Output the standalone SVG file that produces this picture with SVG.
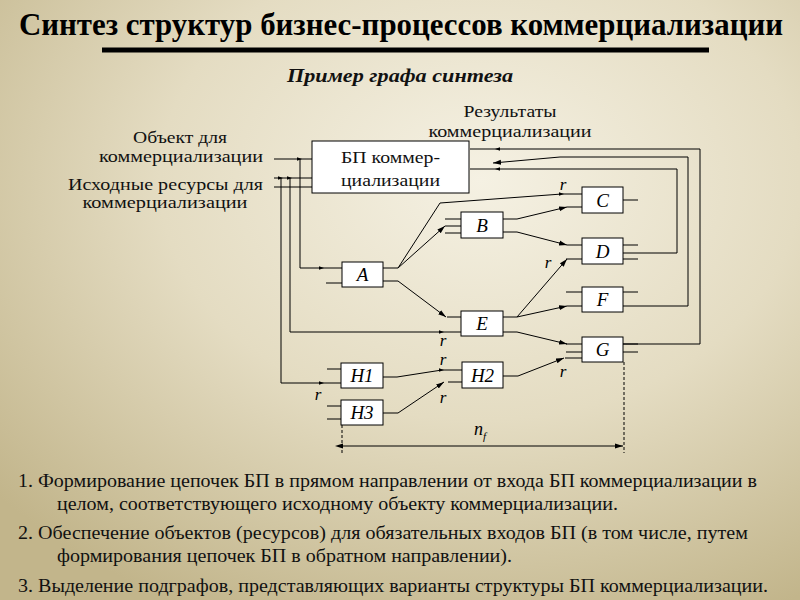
<svg xmlns="http://www.w3.org/2000/svg" xmlns:xlink="http://www.w3.org/1999/xlink" width="800" height="600" viewBox="0 0 800 600">
<defs>
<radialGradient id="bg" cx="0.6" cy="0.3" r="0.8">
<stop offset="0" stop-color="#f5f1e3"/>
<stop offset="0.5" stop-color="#e4dcc2"/>
<stop offset="1" stop-color="#c2b58b"/>
</radialGradient>
<marker id="ah" viewBox="0 0 8 6" refX="8" refY="3" markerWidth="8" markerHeight="6" markerUnits="userSpaceOnUse" orient="auto">
<path d="M0,0.5 L8,3 L0,5.5 z" fill="#000"/>
</marker>
<marker id="ahs" viewBox="0 0 8 6" refX="0" refY="3" markerWidth="8" markerHeight="6" markerUnits="userSpaceOnUse" orient="auto-start-reverse">
<path d="M0,0.5 L8,3 L0,5.5 z" fill="#000"/>
</marker>
<path id="tk" d="M-3,-1.8 L2,0 L-3,1.8 z" fill="#000"/>
</defs>
<style>
text{font-family:"Liberation Serif","Times New Roman","DejaVu Serif",serif}
.ln{fill:none;stroke:#000;stroke-width:1}
.box{fill:#fff;stroke:#000;stroke-width:1}
.lab{font-size:17px;fill:#111}
.nl{font-size:19px;font-style:italic;fill:#000;text-anchor:middle}
.r{font-size:17px;font-style:italic;fill:#000;text-anchor:middle}
.bt{font-size:18px;fill:#111}
.dash{fill:none;stroke:#000;stroke-width:1;stroke-dasharray:3,2}
</style>
<rect x="0" y="0" width="800" height="600" fill="url(#bg)"/>

<text x="401" y="35" text-anchor="middle" font-weight="bold" font-size="31" textLength="764" lengthAdjust="spacingAndGlyphs" fill="#000">Синтез структур бизнес-процессов коммерциализации</text>
<rect x="102" y="47.5" width="607" height="5" fill="#000"/>
<text x="400" y="82" text-anchor="middle" font-weight="bold" font-style="italic" font-size="19" textLength="226" lengthAdjust="spacingAndGlyphs" fill="#111">Пример графа синтеза</text>

<g id="labels">
<text class="lab" x="180" y="143" text-anchor="middle" textLength="94" lengthAdjust="spacingAndGlyphs">Объект для</text>
<text class="lab" x="263" y="162" text-anchor="end" textLength="164" lengthAdjust="spacingAndGlyphs">коммерциализации</text>
<text class="lab" x="263" y="190" text-anchor="end" textLength="195" lengthAdjust="spacingAndGlyphs">Исходные ресурсы для</text>
<text class="lab" x="165" y="208" text-anchor="middle" textLength="165" lengthAdjust="spacingAndGlyphs">коммерциализации</text>
<text class="lab" x="510" y="117" text-anchor="middle" textLength="93" lengthAdjust="spacingAndGlyphs">Результаты</text>
<text class="lab" x="510" y="137" text-anchor="middle" textLength="163" lengthAdjust="spacingAndGlyphs">коммерциализации</text>
</g>

<g id="connectors">
<path class="ln" d="M274,159 H312 M274,178 H312 M274,187 H312"/>
<path class="ln" d="M300,159 V268 H342"/>
<path class="ln" d="M290,178 V332 H461"/>
<path class="ln" d="M281,178 V383 H341"/>
<path class="ln" d="M326,283 H342 M383,268 H398 M383,281 H398"/>
<path class="ln" d="M398,268 L440,203 L562,194 H582"/>
<path class="ln" marker-end="url(#ah)" d="M398,268 L445,226"/>
<path class="ln" d="M445,219 H461 M445,226 H461 M445,233 H461"/>
<path class="ln" marker-end="url(#ah)" d="M398,281 L446,317"/>
<path class="ln" d="M447,317 H461"/>
<path class="ln" d="M503,219 H517 M503,232 H517"/>
<path class="ln" marker-end="url(#ah)" d="M517,219 L567,207"/>
<path class="ln" marker-end="url(#ah)" d="M517,232 L567,245"/>
<path class="ln" d="M567,207 H582 M567,245 H582 M566,259 H582"/>
<path class="ln" d="M623,200 H638 M623,245 H638 M623,253 H638 M623,259 H638"/>
<path class="ln" d="M503,317 H517 M503,332 H517"/>
<path class="ln" marker-end="url(#ah)" d="M517,317 L567,259"/>
<path class="ln" marker-end="url(#ah)" d="M517,317 L567,306"/>
<path class="ln" marker-end="url(#ah)" d="M517,332 L567,344"/>
<path class="ln" d="M566,292 H582 M567,306 H582 M623,292 H638 M623,306 H638"/>
<path class="ln" d="M566,344 H582 M566,352 H582 M565,358 H582 M623,344 H638 M623,352 H638"/>
<path class="ln" d="M623,344 H700 V149 H470"/>
<path class="ln" marker-end="url(#ah)" d="M638,306 H688 V157 H560 L493,163"/>
<path class="ln" d="M638,253 H677 V169 H470"/>
<path class="ln" d="M327,369 H341 M383,377 H397"/>
<path class="ln" d="M397,377 L442,370 H462"/>
<path class="ln" d="M448,382 H462 M503,376 H518"/>
<path class="ln" marker-end="url(#ah)" d="M518,376 L564,358"/>
<path class="ln" d="M327,406 H341 M327,419 H341 M383,413 H398"/>
<path class="ln" marker-end="url(#ah)" d="M398,413 L444,382"/>
<use href="#tk" transform="translate(300,159)"/>
<use href="#tk" transform="translate(281,178)"/>
<use href="#tk" transform="translate(290,178)"/>
<use href="#tk" transform="translate(322,268)"/>
<use href="#tk" transform="translate(442,332)"/>
<use href="#tk" transform="translate(322,383)"/>
<use href="#tk" transform="translate(562,194)"/>
<use href="#tk" transform="translate(442,370)"/>
<use href="#tk" transform="translate(497,149) rotate(180)"/>
<use href="#tk" transform="translate(497,169) rotate(180)"/>
</g>

<g id="node-bp"><rect class="box" x="312" y="141" width="157" height="52"/>
<text class="lab" x="341" y="163" font-size="18" textLength="99" lengthAdjust="spacingAndGlyphs">БП коммер-</text>
<text class="lab" x="341" y="186" font-size="18" textLength="99" lengthAdjust="spacingAndGlyphs">циализации</text></g>
<g id="node-a"><rect class="box" x="342" y="262" width="41" height="25"/><text class="nl" x="362.5" y="281">A</text></g>
<g id="node-b"><rect class="box" x="461" y="212" width="42" height="26"/><text class="nl" x="482" y="232">B</text></g>
<g id="node-c"><rect class="box" x="582" y="187" width="41" height="26"/><text class="nl" x="602.5" y="207">C</text></g>
<g id="node-d"><rect class="box" x="582" y="238" width="41" height="26"/><text class="nl" x="602.5" y="258">D</text></g>
<g id="node-e"><rect class="box" x="461" y="311" width="42" height="25"/><text class="nl" x="482" y="330">E</text></g>
<g id="node-f"><rect class="box" x="582" y="287" width="41" height="25"/><text class="nl" x="602.5" y="306">F</text></g>
<g id="node-g"><rect class="box" x="582" y="337" width="41" height="25"/><text class="nl" x="602.5" y="356">G</text></g>
<g id="node-h1"><rect class="box" x="341" y="363" width="42" height="25"/><text class="nl" x="362" y="382">H1</text></g>
<g id="node-h2"><rect class="box" x="462" y="362" width="41" height="26"/><text class="nl" x="482.5" y="382">H2</text></g>
<g id="node-h3"><rect class="box" x="341" y="400" width="42" height="25"/><text class="nl" x="362" y="419">H3</text></g>

<g id="r-labels">
<text class="r" x="563" y="190">r</text>
<text class="r" x="548" y="268">r</text>
<text class="r" x="443" y="346">r</text>
<text class="r" x="443" y="365">r</text>
<text class="r" x="443" y="403">r</text>
<text class="r" x="318" y="400">r</text>
<text class="r" x="563" y="377">r</text>
</g>

<g id="dimension">
<path class="dash" d="M342,425 V453 M624,362 V453"/>
<path class="ln" marker-start="url(#ahs)" marker-end="url(#ah)" d="M343,446 H623"/>
<text x="474" y="435" font-style="italic" font-size="18">n<tspan font-size="11" dy="5">f</tspan></text>
</g>

<g id="notes">
<text class="bt" x="18" y="487" textLength="739" lengthAdjust="spacingAndGlyphs">1. Формирование цепочек БП в прямом направлении от входа БП коммерциализации в</text>
<text class="bt" x="57" y="510" textLength="561" lengthAdjust="spacingAndGlyphs">целом, соответствующего исходному объекту коммерциализации.</text>
<text class="bt" x="18" y="539" textLength="730" lengthAdjust="spacingAndGlyphs">2. Обеспечение объектов (ресурсов) для обязательных входов БП (в том числе, путем</text>
<text class="bt" x="57" y="562" textLength="455" lengthAdjust="spacingAndGlyphs">формирования цепочек БП в обратном направлении).</text>
<text class="bt" x="18" y="592" textLength="750" lengthAdjust="spacingAndGlyphs">3. Выделение подграфов, представляющих варианты структуры БП коммерциализации.</text>
</g>
</svg>
